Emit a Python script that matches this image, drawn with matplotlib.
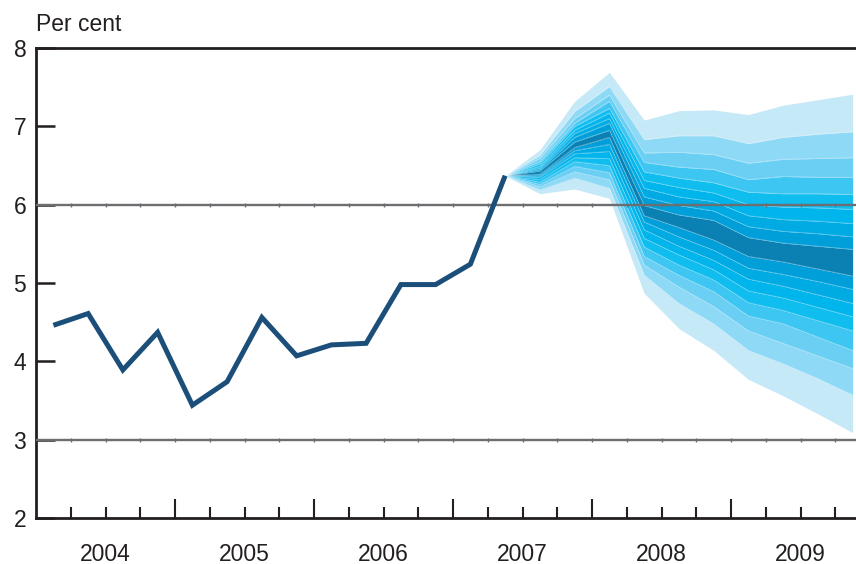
import matplotlib
import numpy as np

matplotlib.use('Agg')
import matplotlib.pyplot as plt
from matplotlib.transforms import blended_transform_factory

plt.rcParams['font.family'] = ['Liberation Sans', 'DejaVu Sans']

# quarterly outturns, 2004 Q1 to 2007 Q2
history = [4.46, 4.61, 3.89, 4.37, 3.44, 3.74, 4.56, 4.07, 4.21, 4.23,
           4.98, 4.98, 5.24, 6.37]

# projection percentiles, 2007 Q2 to 2009 Q4
p05 = [6.37, 6.14, 6.20, 6.08, 4.87, 4.42, 4.14, 3.77, 3.56, 3.33, 3.09]
p10 = [6.37, 6.19, 6.34, 6.21, 5.10, 4.74, 4.48, 4.14, 3.97, 3.78, 3.57]
p15 = [6.37, 6.23, 6.42, 6.32, 5.23, 4.95, 4.70, 4.39, 4.23, 4.07, 3.91]
p20 = [6.37, 6.26, 6.49, 6.41, 5.34, 5.10, 4.89, 4.58, 4.48, 4.31, 4.14]
p25 = [6.37, 6.29, 6.55, 6.50, 5.46, 5.23, 5.04, 4.75, 4.65, 4.52, 4.39]
p30 = [6.37, 6.32, 6.60, 6.59, 5.57, 5.36, 5.17, 4.90, 4.81, 4.69, 4.57]
p35 = [6.37, 6.35, 6.65, 6.68, 5.68, 5.47, 5.29, 5.05, 4.96, 4.85, 4.74]
p40 = [6.37, 6.37, 6.69, 6.77, 5.78, 5.59, 5.42, 5.19, 5.11, 5.02, 4.92]
p45 = [6.37, 6.39, 6.73, 6.86, 5.86, 5.71, 5.55, 5.34, 5.27, 5.18, 5.09]
p55 = [6.37, 6.43, 6.80, 6.95, 5.99, 5.87, 5.80, 5.58, 5.51, 5.47, 5.43]
p60 = [6.37, 6.45, 6.86, 7.04, 6.10, 5.99, 5.92, 5.72, 5.66, 5.63, 5.59]
p65 = [6.37, 6.47, 6.91, 7.10, 6.21, 6.10, 6.04, 5.86, 5.81, 5.79, 5.76]
p70 = [6.37, 6.49, 6.95, 7.17, 6.31, 6.22, 6.15, 6.00, 5.97, 5.96, 5.94]
p75 = [6.37, 6.52, 7.00, 7.23, 6.42, 6.34, 6.28, 6.16, 6.14, 6.14, 6.13]
p80 = [6.37, 6.55, 7.04, 7.32, 6.54, 6.48, 6.45, 6.32, 6.36, 6.35, 6.35]
p85 = [6.37, 6.59, 7.10, 7.40, 6.66, 6.67, 6.64, 6.53, 6.58, 6.59, 6.60]
p90 = [6.37, 6.63, 7.19, 7.51, 6.83, 6.88, 6.88, 6.78, 6.86, 6.90, 6.93]
p95 = [6.37, 6.70, 7.32, 7.69, 7.08, 7.20, 7.21, 7.15, 7.27, 7.34, 7.41]

years = ['2004', '2005', '2006', '2007', '2008', '2009']

# band colours from the outermost pair in to the central band
band_colours = ['#c6e9f8', '#8ed9f6', '#6bcff4', '#3ec6f2', '#10bdef',
                '#00b5eb', '#00abe3', '#009fd9']
centre_colour = '#0a80b3'
line_colour = '#1b4f7a'
grid_colour = '#6d6e71'
axis_colour = '#231f20'
text_size = 16.5

n_quarters = 4 * len(years)
hist_x = np.arange(len(history)) + 0.5
fan_x = np.arange(len(history) - 1, n_quarters) + 0.5

lower = [p05, p10, p15, p20, p25, p30, p35, p40, p45]
upper = [p95, p90, p85, p80, p75, p70, p65, p60, p55]

figure = plt.figure(figsize=(8.56, 5.64), dpi=100)
axis = figure.add_axes([36 / 856, 46 / 564, 834 / 856, 470 / 564])

for i, colour in enumerate(band_colours):
    axis.fill_between(fan_x, lower[i], lower[i + 1], color=colour, lw=0, zorder=1)
    axis.fill_between(fan_x, upper[i + 1], upper[i], color=colour, lw=0, zorder=1)
axis.fill_between(fan_x, p45, p55, color=centre_colour, lw=0, zorder=1)

# faint seams between the bands
for edge in lower[1:] + upper[1:]:
    axis.plot(fan_x, edge, color='white', lw=0.5, alpha=0.35, zorder=2)

quarter_edges = np.arange(1, n_quarters)
for level in (3, 6):
    axis.axhline(level, color=grid_colour, lw=1.7, zorder=3)
    axis.plot(quarter_edges, [level] * len(quarter_edges), ls='none',
              marker='|', markersize=3.5, markeredgewidth=1.0,
              color=grid_colour, zorder=3)

axis.plot(hist_x, history, color=line_colour, lw=3.6,
          solid_joinstyle='miter', solid_capstyle='butt', zorder=4)

axis.set_xlim(0, n_quarters)
axis.set_ylim(2, 8)

year_edges = np.arange(4, n_quarters, 4)
axis.set_xticks(year_edges)
axis.set_xticks([q for q in quarter_edges if q % 4], minor=True)
axis.set_xticklabels([])
axis.tick_params(axis='x', which='major', direction='in', length=13.5,
                 width=1.5, color=axis_colour)
axis.tick_params(axis='x', which='minor', direction='in', length=8,
                 width=1.5, color=axis_colour)

axis.set_yticks(range(2, 9))
axis.tick_params(axis='y', direction='in', length=14, width=1.8,
                 color=axis_colour, pad=7, labelsize=text_size,
                 labelcolor=axis_colour)

for side in ('left', 'top', 'bottom'):
    axis.spines[side].set_linewidth(2.0)
    axis.spines[side].set_color(axis_colour)
axis.spines['right'].set_visible(False)

label_transform = blended_transform_factory(axis.transData, axis.transAxes)
for i, year in enumerate(years):
    axis.text(4 * i + 2, -0.077, year, transform=label_transform,
              ha='center', va='center', fontsize=text_size, color=axis_colour)

axis.text(0, 1.051, 'Per cent', transform=axis.transAxes, ha='left',
          va='center', fontsize=text_size, color=axis_colour)

figure.savefig('out.png', dpi=100)
plt.close(figure)
